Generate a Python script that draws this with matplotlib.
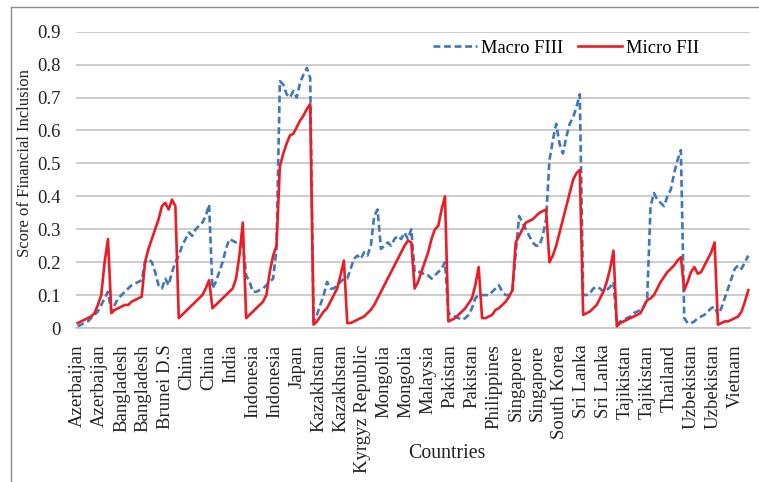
import numpy as np
import matplotlib
matplotlib.use("Agg")
import matplotlib.pyplot as plt
from matplotlib.lines import Line2D

# -----------------------------------
# Data (10 observations per country)
# -----------------------------------
countries = [
    "Azerbaijan", "Bangladesh", "Brunei D.S", "China", "India",
    "Indonesia", "Japan", "Kazakhstan", "Kyrgyz Republic", "Mongolia",
    "Malaysia", "Pakistan", "Philippines", "Singapore", "South Korea",
    "Sri Lanka", "Tajikistan", "Thailand", "Uzbekistan", "Vietnam",
]

tick_labels = [
    "Azerbaijan", "Azerbaijan", "Bangladesh", "Bangladesh", "Brunei D.S",
    "China", "China", "India", "Indonesia", "Indonesia", "Japan",
    "Kazakhstan", "Kazakhstan", "Kyrgyz Republic", "Mongolia", "Mongolia",
    "Malaysia", "Pakistan", "Pakistan", "Philippines", "Singapore",
    "Singapore", "South Korea", "Sri Lanka", "Sri Lanka", "Tajikistan",
    "Tajikistan", "Thailand", "Uzbekistan", "Uzbekistan", "Vietnam",
]

macro_fiii = [
    0.005, 0.01, 0.015, 0.02, 0.03, 0.04, 0.05, 0.07, 0.09, 0.11,       # Azerbaijan
    0.05, 0.07, 0.09, 0.10, 0.11, 0.12, 0.13, 0.135, 0.14, 0.145,       # Bangladesh
    0.20, 0.21, 0.20, 0.17, 0.13, 0.12, 0.15, 0.13, 0.17, 0.20,         # Brunei
    0.22, 0.25, 0.27, 0.29, 0.28, 0.30, 0.31, 0.32, 0.34, 0.375,        # China
    0.12, 0.14, 0.17, 0.20, 0.24, 0.27, 0.265, 0.26, 0.26, 0.255,       # India
    0.16, 0.14, 0.11, 0.11, 0.115, 0.12, 0.13, 0.14, 0.15, 0.24,        # Indonesia
    0.75, 0.74, 0.71, 0.70, 0.72, 0.70, 0.745, 0.77, 0.79, 0.76,        # Japan
    0.02, 0.04, 0.07, 0.10, 0.14, 0.12, 0.12, 0.13, 0.14, 0.15,         # Kazakhstan
    0.15, 0.18, 0.21, 0.22, 0.21, 0.23, 0.22, 0.25, 0.34, 0.36,         # Kyrgyz Republic
    0.24, 0.25, 0.26, 0.25, 0.27, 0.28, 0.27, 0.29, 0.27, 0.30,         # Mongolia
    0.17, 0.17, 0.17, 0.16, 0.16, 0.15, 0.16, 0.17, 0.18, 0.20,         # Malaysia
    0.045, 0.04, 0.035, 0.03, 0.025, 0.03, 0.04, 0.06, 0.09, 0.10,      # Pakistan
    0.10, 0.10, 0.10, 0.11, 0.12, 0.13, 0.11, 0.10, 0.10, 0.11,         # Philippines
    0.23, 0.34, 0.32, 0.30, 0.28, 0.26, 0.25, 0.25, 0.28, 0.33,         # Singapore
    0.51, 0.57, 0.62, 0.56, 0.53, 0.58, 0.62, 0.64, 0.67, 0.71,         # South Korea
    0.10, 0.10, 0.105, 0.12, 0.125, 0.12, 0.11, 0.115, 0.125, 0.14,     # Sri Lanka
    0.01, 0.02, 0.025, 0.03, 0.035, 0.045, 0.05, 0.055, 0.065, 0.09,    # Tajikistan
    0.37, 0.41, 0.39, 0.38, 0.37, 0.40, 0.42, 0.47, 0.51, 0.54,         # Thailand
    0.03, 0.015, 0.015, 0.02, 0.03, 0.035, 0.04, 0.05, 0.06, 0.065,     # Uzbekistan
    0.04, 0.06, 0.09, 0.12, 0.15, 0.18, 0.19, 0.18, 0.20, 0.22,         # Vietnam
]

micro_fii = [
    0.015, 0.02, 0.025, 0.03, 0.035, 0.045, 0.07, 0.10, 0.20, 0.27,     # Azerbaijan
    0.045, 0.055, 0.06, 0.065, 0.07, 0.07, 0.08, 0.085, 0.09, 0.095,    # Bangladesh
    0.20, 0.24, 0.27, 0.30, 0.33, 0.37, 0.38, 0.36, 0.39, 0.37,         # Brunei
    0.03, 0.04, 0.05, 0.06, 0.07, 0.08, 0.09, 0.10, 0.12, 0.145,        # China
    0.06, 0.07, 0.08, 0.09, 0.10, 0.11, 0.12, 0.15, 0.22, 0.32,         # India
    0.03, 0.04, 0.05, 0.06, 0.07, 0.08, 0.10, 0.17, 0.22, 0.25,         # Indonesia
    0.49, 0.53, 0.56, 0.585, 0.59, 0.61, 0.63, 0.645, 0.665, 0.68,      # Japan
    0.01, 0.02, 0.035, 0.05, 0.06, 0.08, 0.10, 0.12, 0.16, 0.205,       # Kazakhstan
    0.015, 0.015, 0.02, 0.025, 0.03, 0.035, 0.045, 0.055, 0.07, 0.09,   # Kyrgyz Republic
    0.11, 0.13, 0.15, 0.17, 0.19, 0.21, 0.23, 0.25, 0.265, 0.26,        # Mongolia
    0.12, 0.14, 0.17, 0.20, 0.23, 0.27, 0.30, 0.31, 0.36, 0.40,         # Malaysia
    0.02, 0.025, 0.03, 0.04, 0.05, 0.06, 0.075, 0.09, 0.13, 0.185,      # Pakistan
    0.03, 0.03, 0.035, 0.04, 0.055, 0.06, 0.07, 0.08, 0.095, 0.115,     # Philippines
    0.26, 0.28, 0.30, 0.32, 0.325, 0.33, 0.34, 0.35, 0.355, 0.36,       # Singapore
    0.20, 0.22, 0.25, 0.29, 0.33, 0.37, 0.41, 0.45, 0.47, 0.48,         # South Korea
    0.04, 0.045, 0.05, 0.06, 0.07, 0.09, 0.11, 0.14, 0.18, 0.235,       # Sri Lanka
    0.005, 0.015, 0.02, 0.025, 0.03, 0.035, 0.04, 0.045, 0.065, 0.085,  # Tajikistan
    0.09, 0.10, 0.12, 0.14, 0.155, 0.17, 0.18, 0.19, 0.205, 0.215,      # Thailand
    0.115, 0.14, 0.17, 0.185, 0.165, 0.17, 0.19, 0.21, 0.23, 0.26,      # Uzbekistan
    0.01, 0.015, 0.02, 0.02, 0.025, 0.03, 0.035, 0.05, 0.08, 0.115,     # Vietnam
]

y_ticks = [0, 0.1, 0.2, 0.3, 0.4, 0.5, 0.6, 0.7, 0.8, 0.9]
y_tick_labels = ["0", "0.1", "0.2", "0.3", "0.4", "0.5", "0.6", "0.7", "0.8", "0.9"]

BLUE = "#3f77bc"
RED = "#ed1c24"
GRID = "#c4c4c4"
TEXT = "#222222"


# -----------------------------------
# Plot
# -----------------------------------
def plot_chart():
    plt.rcParams["font.family"] = ["Liberation Serif", "DejaVu Serif"]

    fig = plt.figure(figsize=(7.59, 4.82), dpi=100)
    ax = fig.add_axes([0.1001, 0.3195, 0.888, 0.6147])

    x = np.arange(len(macro_fiii))
    ax.plot(x, macro_fiii, color=BLUE, lw=1.9, linestyle=(0, (2.6, 1.4)),
            label="Macro FIII", zorder=3)
    ax.plot(x, micro_fii, color=RED, lw=1.9, label="Micro FII", zorder=4)

    ax.set_xlim(-0.5, len(macro_fiii) - 0.5)
    ax.set_ylim(0, 0.9)

    # category labels shown every 6.5 observations (Excel-style skipping)
    ax.set_xticks(np.arange(len(tick_labels)) * 6.5)
    ax.set_xticklabels(tick_labels, rotation=90, fontsize=13.5, color=TEXT,
                       va="top", ha="center")
    ax.tick_params(axis="x", length=0, pad=12)

    ax.set_yticks(y_ticks)
    ax.set_yticklabels(y_tick_labels, fontsize=13.5, color=TEXT)
    ax.tick_params(axis="y", length=0, pad=11)

    ax.grid(axis="y", color=GRID, lw=1.2)
    ax.set_axisbelow(True)
    for side in ["left", "right", "top"]:
        ax.spines[side].set_visible(False)
    ax.spines["bottom"].set_color(GRID)
    ax.spines["bottom"].set_linewidth(1.2)

    ax.legend(loc="center", bbox_to_anchor=(0.727, 0.945), ncol=2,
              frameon=False, fontsize=13.3, handlelength=2.4,
              handletextpad=0.2, columnspacing=0.8)

    fig.text(25 / 759, 1 - 163 / 482, "Score of Financial Inclusion",
             rotation=90, ha="center", va="center", fontsize=12, color=TEXT)
    fig.text(447 / 759, 1 - 453 / 482, "Countries",
             ha="center", va="center", fontsize=14.3, color=TEXT)

    # chart area border (top and left edges visible in the crop)
    fig.add_artist(Line2D([11 / 759, 11 / 759], [0, 1 - 7 / 482],
                          color="#8c8c8c", lw=1.0))
    fig.add_artist(Line2D([11 / 759, 1], [1 - 7 / 482, 1 - 7 / 482],
                          color="#8c8c8c", lw=1.0))

    fig.savefig("out.png", dpi=100)


# -----------------------------------
# Run Program
# -----------------------------------
if __name__ == "__main__":
    plot_chart()
